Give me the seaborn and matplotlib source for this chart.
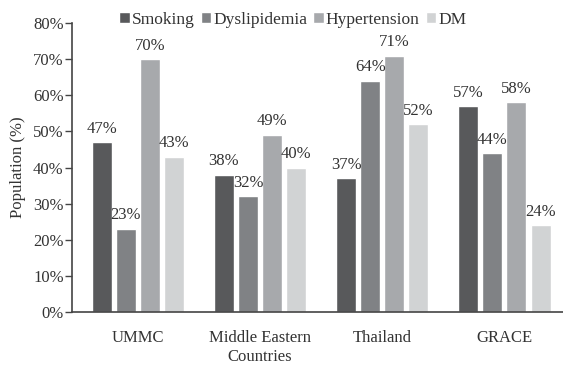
import matplotlib
matplotlib.use("Agg")
import matplotlib.pyplot as plt
import seaborn as sns
import pandas as pd

# Risk factor prevalence by cohort
cohorts = ["UMMC", "Middle Eastern\nCountries", "Thailand", "GRACE"]
risk_factors = ["Smoking", "Dyslipidemia", "Hypertension", "DM"]
smoking = [47, 38, 37, 57]
dyslipidemia = [23, 32, 64, 44]
hypertension = [70, 49, 71, 58]
dm = [43, 40, 52, 24]
y_ticks = [0, 10, 20, 30, 40, 50, 60, 70, 80]

series = [smoking, dyslipidemia, hypertension, dm]
records = []
for rf, vals in zip(risk_factors, series):
    for c, v in zip(cohorts, vals):
        records.append({"Cohort": c, "Risk factor": rf, "Population": v})
df = pd.DataFrame(records)

sns.set_theme(style="white")
plt.rcParams["font.family"] = ["Liberation Serif", "DejaVu Serif"]

palette = ["#58595b", "#808285", "#a7a9ac", "#d1d3d4"]
text_color = "#333333"

fig = plt.figure(figsize=(5.63, 3.65), dpi=100)
ax = fig.add_axes([0.128, 0.145, 0.872, 0.792])

sns.barplot(data=df, x="Cohort", y="Population", hue="Risk factor",
            order=cohorts, hue_order=risk_factors, palette=palette,
            width=0.79, gap=0.17, saturation=1, ax=ax, legend=True)

for cont in ax.containers:
    ax.bar_label(cont, fmt="%g%%", padding=4, fontsize=12, color=text_color)

ax.set_ylim(0, 80)
ax.set_xlim(-0.54, 3.48)
ax.set_yticks(y_ticks)
ax.set_yticklabels([f"{t}%" for t in y_ticks], fontsize=12, color=text_color)
ax.tick_params(axis="y", which="both", left=True, length=5, width=1,
               color="#444444", pad=1)
ax.tick_params(axis="x", length=0, pad=13, labelsize=12, labelcolor=text_color)
for lbl in ax.get_xticklabels():
    lbl.set_linespacing(1.25)
ax.set_xlabel("")
ax.set_ylabel("Population (%)", fontsize=12, color=text_color, labelpad=5)

for side in ["top", "right"]:
    ax.spines[side].set_visible(False)
for side in ["left", "bottom"]:
    ax.spines[side].set_color("#444444")
    ax.spines[side].set_linewidth(1.2)

handles, labels = ax.get_legend_handles_labels()
ax.get_legend().remove()
fig.legend(handles, labels, loc="center", bbox_to_anchor=(0.52, 0.945),
           ncol=4, frameon=False, fontsize=12.5, handlelength=0.6,
           handleheight=0.6, handletextpad=0.12, columnspacing=0.35,
           labelcolor=text_color)

fig.savefig("out.png", dpi=100)
